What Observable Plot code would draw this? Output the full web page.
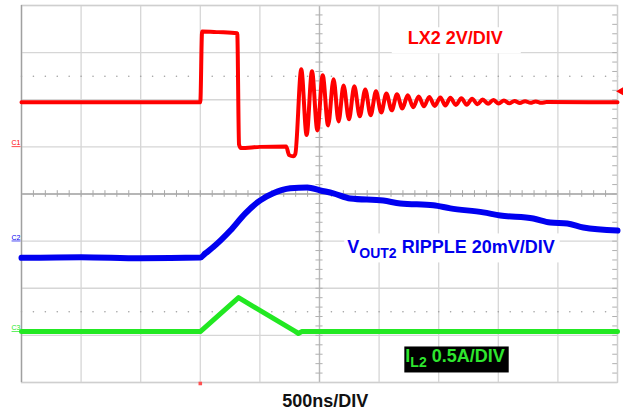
<!DOCTYPE html>
<html><head><meta charset="utf-8">
<script src="https://cdn.jsdelivr.net/npm/d3@7"></script>
<script src="https://cdn.jsdelivr.net/npm/@observablehq/plot@0.6"></script>
<style>html,body{margin:0;padding:0;background:#fff;} svg{display:block}</style>
</head><body><div id="chart"></div>
<script>
// Time in ns relative to trigger (500 ns/div), values in channel units
const lxTime = [-1500, 0, 15, 150, 310, 325, 340, 500, 720, 745, 780, 797, 847, 892, 937, 982, 1027, 1072, 1118, 1160, 1202, 1247, 1292, 1338, 1384, 1429, 1474, 1518, 1561, 1606, 1650, 1695, 1740, 1786, 1832, 1876, 1921, 1967, 2014, 2056, 2098, 2144, 2190, 2235, 2280, 2325, 2369, 2414, 2458, 2503, 2547, 2592, 2636, 2681, 2725, 2770, 2814, 2860, 2905, 3500];
const lxVolts = [1.89, 1.89, 4.90, 4.87, 4.82, 0.10, -0.05, 0.00, 0.02, -0.35, -0.40, -0.30, 3.29, 0.50, 3.21, 0.70, 3.04, 0.91, 2.87, 1.08, 2.61, 1.17, 2.57, 1.30, 2.44, 1.34, 2.36, 1.46, 2.27, 1.55, 2.23, 1.63, 2.19, 1.68, 2.14, 1.72, 2.12, 1.74, 2.10, 1.76, 2.08, 1.78, 2.06, 1.79, 2.04, 1.81, 2.01, 1.83, 1.99, 1.84, 1.97, 1.85, 1.95, 1.86, 1.94, 1.87, 1.93, 1.87, 1.90, 1.89];

const voutTime = [-1500, -1000, -500, 0, 42, 109, 252, 378, 503, 612, 755, 898, 1007, 1116, 1259, 1535, 1678, 1955, 2098, 2374, 2517, 2794, 2936, 3079, 3213, 3500];
const voutMv = [-7.1, -6.8, -7.3, -7.0, -5.2, -2.5, 4.5, 11.8, 17.3, 20.3, 22.4, 22.8, 21.5, 20.3, 18.1, 17.2, 16.0, 15.2, 13.9, 12.2, 10.9, 9.6, 7.9, 7.5, 5.8, 4.5];

const ilTime = [-1500, 0, 321, 800, 822, 850, 3500];
const ilAmps = [0, 0, 0.36, 0.0, -0.02, 0, 0];

// scope channel settings: units per division and reference (ground) level in divisions
const chNames = ["C1", "C2", "C3"];
const chPerDiv = [2, 20, 0.5];
const chRefDiv = [5, 3, 1.08];
const chColors = ["#ff0000", "#0000f0", "#22e822"];

const trigTime = 0;
const trigLevelV = 2.36;

const divTimes = d3.range(-1500, 3501, 500);
const divLevels = d3.range(0, 9, 1);
const minorTimes = d3.range(-1500, 3501, 100);
const minorLevels = d3.range(0, 8.001, 0.2);
const cursorLevels = [1.5, 6.5];

const toDiv = (v, c) => chRefDiv[c] + v / chPerDiv[c];
const lx = lxTime.map((t, i) => ({t, d: toDiv(lxVolts[i], 0)}));
const vout = voutTime.map((t, i) => ({t, d: toDiv(voutMv[i], 1)}));
const il = ilTime.map((t, i) => ({t, d: toDiv(ilAmps[i], 2)}));

const font = "Liberation Sans, Arial, Helvetica, sans-serif";
const cursorDots = cursorLevels.flatMap(l => minorTimes.map(t => ({t, d: l})));

const plot = Plot.plot({
  width: 623, height: 411,
  marginLeft: 21, marginRight: 6, marginTop: 5, marginBottom: 29,
  style: {background: "#fff", fontFamily: font},
  x: {domain: [-1500, 3500], axis: null},
  y: {domain: [0, 8], axis: null},
  marks: [
    Plot.ruleX(divTimes, {stroke: "#d6d6d6", strokeWidth: 1.3}),
    Plot.ruleY(divLevels, {stroke: "#d6d6d6", strokeWidth: 1.3}),
    Plot.ruleX([1000], {stroke: "#b8b8b8", strokeWidth: 1.3}),
    Plot.ruleY([4], {stroke: "#a8a8a8", strokeWidth: 1.3}),
    Plot.ruleX(minorTimes, {y1: 4 - 0.07, y2: 4 + 0.07, stroke: "#a8a8a8"}),
    Plot.ruleY(minorLevels, {x1: 1000 - 30, x2: 1000 + 30, stroke: "#b0b0b0"}),
    Plot.ruleY(minorLevels, {x1: 3500 - 40, x2: 3500, stroke: "#b0b0b0"}),
    Plot.dot(cursorDots, {x: "t", y: "d", r: 0.8, fill: "#a0a0a0", stroke: null}),
    Plot.frame({stroke: "#cfcfcf", strokeWidth: 1.3}),
    Plot.ruleX([-1500], {stroke: "#a0a0a0", strokeWidth: 1.3}),
    Plot.line(lx, {x: "t", y: "d", stroke: chColors[0], strokeWidth: 4, curve: "monotone-x"}),
    Plot.line(vout, {x: "t", y: "d", stroke: chColors[1], strokeWidth: 6, curve: "monotone-x"}),
    Plot.line(il, {x: "t", y: "d", stroke: chColors[2], strokeWidth: 5, curve: "linear"}),
    Plot.dot([trigLevelV], {x: () => 3500, y: v => toDiv(v, 0), symbol: "triangle", rotate: -90, r: 3.5, fill: "#ff0000", stroke: null, dx: 4}),
    Plot.dot([trigTime], {x: t => t, y: () => 0, symbol: "square", r: 2, fill: "#ff5050", stroke: null, dy: 1}),
    Plot.text(chNames, {x: () => -1500, y: (n, i) => chRefDiv[i], text: n => n, fill: (n, i) => chColors[i], fontSize: 7, textAnchor: "end", lineAnchor: "bottom", dx: -1, dy: -1.5}),
    Plot.text(["LX2 2V/DIV"], {x: () => 2139, y: () => 7.3, text: s => s, fill: "#ff0000", fontSize: 18, fontWeight: "bold", textAnchor: "middle", lineAnchor: "middle"}),
    Plot.text(["VOUT2 RIPPLE 20mV/DIV"], {x: () => 1233, y: () => 2.739, text: s => s, fill: "#0000ee", fontSize: 18, fontWeight: "bold", textAnchor: "start", lineAnchor: "bottom"}),
    Plot.text(["IL2 0.5A/DIV"], {x: () => 1720, y: () => 0.425, text: s => s, fill: "#2ee62e", fontSize: 18, fontWeight: "bold", textAnchor: "start", lineAnchor: "bottom"}),
    Plot.text(["500ns/DIV"], {x: () => 1049, y: () => -0.51, text: s => s, fill: "#111", fontSize: 18, fontWeight: "bold", textAnchor: "middle", lineAnchor: "bottom"})
  ]
});
document.getElementById("chart").append(plot);

const NS = "http://www.w3.org/2000/svg";
function subscript(t, main, sub, rest) {
  t.textContent = "";
  const a = document.createElementNS(NS, "tspan"); a.textContent = main;
  const b = document.createElementNS(NS, "tspan"); b.textContent = sub; b.setAttribute("font-size", "14"); b.setAttribute("dy", "5");
  const c = document.createElementNS(NS, "tspan"); c.textContent = rest; c.setAttribute("dy", "-5");
  t.append(a, b, c);
}
function box(t, fill, pad) {
  const sr = plot.getBoundingClientRect();
  const r = t.getBoundingClientRect();
  const rect = document.createElementNS(NS, "rect");
  rect.setAttribute("x", r.left - sr.left - pad[0]);
  rect.setAttribute("y", r.top - sr.top - pad[2]);
  rect.setAttribute("width", r.width + pad[0] + pad[1]);
  rect.setAttribute("height", r.height + pad[2] + pad[3]);
  rect.setAttribute("fill", fill);
  const g = t.parentNode;
  g.parentNode.insertBefore(rect, g);
}
plot.querySelectorAll("text").forEach(t => {
  const s = t.textContent;
  if (s === "VOUT2 RIPPLE 20mV/DIV") { subscript(t, "V", "OUT2", " RIPPLE 20mV/DIV"); box(t, "#fff", [3, 5, 4, 1]); }
  else if (s === "IL2 0.5A/DIV") { subscript(t, "I", "L2", " 0.5A/DIV"); box(t, "#000", [1, 4, 0, 2]); }
  else if (s === "LX2 2V/DIV") { box(t, "#fff", [16, 18, 1, 5]); }
  else if (chNames.includes(s)) { t.setAttribute("text-decoration", "underline"); }
});
</script>
</body></html>
